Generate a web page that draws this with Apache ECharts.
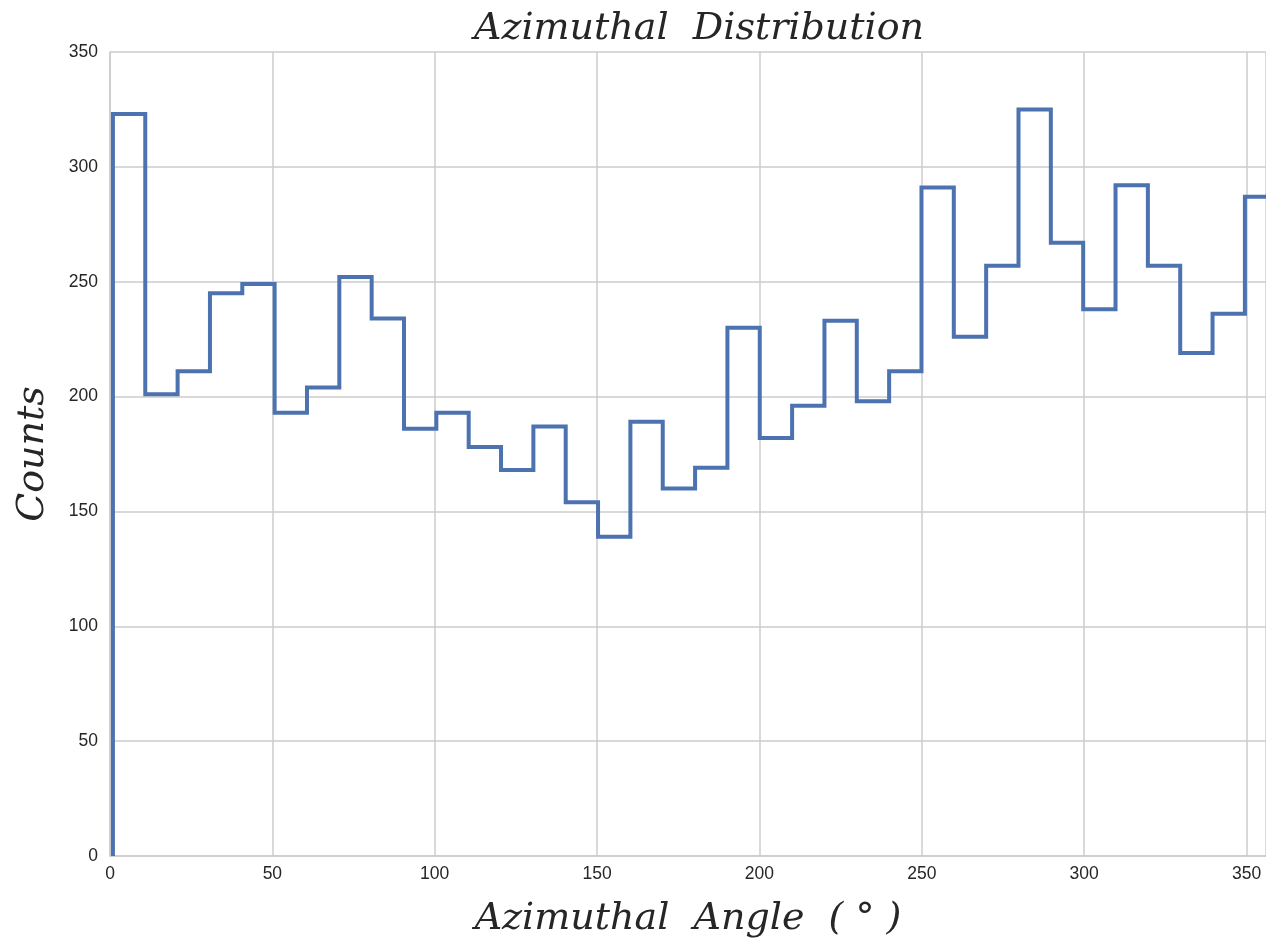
<!DOCTYPE html>
<html>
<head>
<meta charset="utf-8">
<script src="https://cdn.jsdelivr.net/npm/echarts@6/dist/echarts.min.js"></script>
<style>
  html, body { margin: 0; padding: 0; background: #fff; }
  #chart { width: 1266px; height: 945px; }
</style>
</head>
<body>
<div id="chart"></div>
<script>
// histogram counts, one per 10 degree bin
const counts = [
  323, 201, 211, 245, 249, 193, 204, 252, 234, 186,
  193, 178, 168, 187, 154, 139, 189, 160, 169, 230,
  182, 196, 233, 198, 211, 291, 226, 257, 325, 267,
  238, 292, 257, 219, 236, 287
];
const firstEdge = 0.9;
const binWidth = 9.96;
const yTicks = [0, 50, 100, 150, 200, 250, 300, 350];

// step outline like histtype='step'
const edges = counts.map((c, i) => firstEdge + i * binWidth);
edges.push(firstEdge + counts.length * binWidth);
const stepPts = [[edges[0], 0]];
counts.forEach((c, i) => {
  stepPts.push([edges[i], c]);
  stepPts.push([edges[i + 1], c]);
});
stepPts.push([edges[edges.length - 1], 0]);

const gridColor = '#cccccc';
const serif = '"DejaVu Serif", "Liberation Serif", serif';
const sans = '"Liberation Sans", Arial, sans-serif';

const myChart = echarts.init(document.getElementById('chart'));
const option = {
  animation: false,
  title: {
    text: 'Azimuthal  Distribution',
    left: 694,
    top: 5,
    textAlign: 'center',
    textStyle: {
      fontFamily: serif,
      fontStyle: 'italic',
      fontWeight: 'normal',
      fontSize: 38,
      color: '#262626'
    }
  },
  grid: { left: 110, right: 0, top: 52, bottom: 89, outerBoundsMode: 'none' },
  xAxis: {
    type: 'value',
    min: 0,
    max: 356,
    interval: 50,
    name: 'Azimuthal  Angle  ( \u00b0 )',
    nameLocation: 'middle',
    nameGap: 44,
    nameTextStyle: {
      fontFamily: serif,
      fontStyle: 'italic',
      fontSize: 38,
      color: '#262626'
    },
    axisLine: { show: true, lineStyle: { color: gridColor, width: 1.5 } },
    axisTick: { show: false },
    axisLabel: {
      showMaxLabel: false,
      margin: 9,
      fontFamily: sans,
      fontSize: 17.5,
      color: '#262626'
    },
    splitLine: { show: true, lineStyle: { color: gridColor, width: 1.5 } }
  },
  yAxis: {
    type: 'value',
    min: yTicks[0],
    max: yTicks[yTicks.length - 1],
    interval: 50,
    name: 'Counts',
    nameLocation: 'middle',
    nameRotate: 90,
    nameGap: 58,
    nameTextStyle: {
      fontFamily: serif,
      fontStyle: 'italic',
      fontSize: 38,
      color: '#262626'
    },
    axisLine: { show: true, lineStyle: { color: gridColor, width: 1.5 } },
    axisTick: { show: false },
    axisLabel: {
      margin: 12,
      fontFamily: sans,
      fontSize: 17.5,
      color: '#262626'
    },
    splitLine: { show: true, lineStyle: { color: gridColor, width: 1.5 } }
  },
  series: [
    {
      type: 'line',
      data: stepPts,
      showSymbol: false,
      clip: true,
      lineStyle: { color: '#4c72b0', width: 4, join: 'miter' },
      color: '#4c72b0'
    }
  ]
};
myChart.setOption(option);
</script>
</body>
</html>
